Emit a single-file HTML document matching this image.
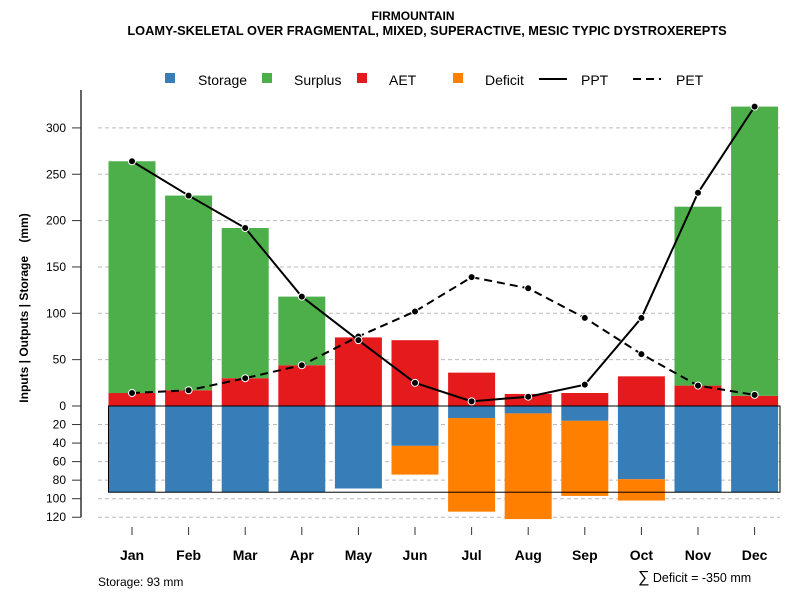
<!DOCTYPE html>
<html><head><meta charset="utf-8"><style>
body{margin:0;background:#fff}
svg{display:block;font-family:"Liberation Sans",Arial,sans-serif}
</style></head><body>
<svg id="c" width="800" height="600" viewBox="0 0 800 600">
<text x="413" y="20" text-anchor="middle" font-size="12" font-weight="bold">FIRMOUNTAIN</text>
<text x="427" y="35" text-anchor="middle" font-size="12.8" font-weight="bold">LOAMY-SKELETAL OVER FRAGMENTAL, MIXED, SUPERACTIVE, MESIC TYPIC DYSTROXEREPTS</text>
<g font-size="14">
<rect x="165" y="73" width="10" height="10" fill="#377eb8"/><text x="198" y="85">Storage</text>
<rect x="262" y="73" width="10" height="10" fill="#4daf4a"/><text x="294" y="85">Surplus</text>
<rect x="357" y="73" width="10" height="10" fill="#e41a1c"/><text x="389" y="85">AET</text>
<rect x="453" y="73" width="10" height="10" fill="#ff7f00"/><text x="485" y="85">Deficit</text>
<line x1="539" y1="79" x2="567" y2="79" stroke="#000" stroke-width="2"/><text x="581" y="85">PPT</text>
<line x1="633" y1="79" x2="661" y2="79" stroke="#000" stroke-width="2" stroke-dasharray="8,5"/><text x="676" y="85">PET</text>
</g>
<text transform="translate(28,308) rotate(-90)" text-anchor="middle" font-size="12" font-weight="bold" xml:space="preserve">Inputs | Outputs | Storage    (mm)</text>
<g id="grid"></g><g id="bars"></g><g id="lines"></g><g id="axes"></g>
<text x="98" y="586" font-size="12">Storage: 93 mm</text>
<text x="638" y="582" font-size="12.5"><tspan font-size="16">∑</tspan> Deficit = -350 mm</text>
</svg>
<script>
const months=["Jan","Feb","Mar","Apr","May","Jun","Jul","Aug","Sep","Oct","Nov","Dec"];
const aet=[14,17,30,44,74,71,36,13,14,32,22,11];
const surplus=[250,210,162,74,0,0,0,0,0,0,193,312];
const storage=[93,93,93,93,89,43,13,8,16,79,93,93];
const deficit=[0,0,0,0,0,31,101,114,81,23,0,0];
const ppt=[264,227,192,118,71,25,5,10,23,95,230,323];
const pet=[14,17,30,44,75,102,139,127,95,56,22,12];
const upTicks=[0,50,100,150,200,250,300];
const downTicks=[20,40,60,80,100,120];
const maxStorage=93;
const NS="http://www.w3.org/2000/svg";
const y0=406,k=0.927;
const yUp=v=>y0-v*k, yDn=v=>y0+v*k;
const xC=i=>132+i*56.6, bw=47;
function mk(p,tag,a){const e=document.createElementNS(NS,tag);for(const q in a)e.setAttribute(q,a[q]);document.getElementById(p).appendChild(e);return e;}
upTicks.forEach(t=>{
 if(t>0){const g=mk("grid","line",{x1:98,x2:780,y1:yUp(t),y2:yUp(t),stroke:"#bbb","stroke-dasharray":"4,3"});
 
 }
 const tk=mk("axes","line",{x1:72,x2:81,y1:yUp(t),y2:yUp(t),stroke:"#333"});
 
 
 const l=mk("axes","text",{x:66,y:yUp(t)+4,"text-anchor":"end","font-size":12});l.textContent=t;
 
 
});
downTicks.forEach(t=>{
 const g=mk("grid","line",{x1:98,x2:780,y1:yDn(t),y2:yDn(t),stroke:"#bbb","stroke-dasharray":"4,3"});
 
 
 const tk=mk("axes","line",{x1:72,x2:81,y1:yDn(t),y2:yDn(t),stroke:"#333"});
 
 
 const l=mk("axes","text",{x:66,y:yDn(t)+4,"text-anchor":"end","font-size":12});l.textContent=t;
 
 
});
const ax=mk("axes","line",{x1:81,x2:81,y1:90,y2:yDn(120),stroke:"#333","stroke-width":1.5});


months.forEach((m,i)=>{
 const x=xC(i)-bw/2;
 const a=mk("bars","rect",{x:x,y:yUp(aet[i]),width:bw,height:aet[i]*k,fill:"#e41a1c"});
 
 
 const s=mk("bars","rect",{x:x,y:yUp(aet[i]+surplus[i]),width:bw,height:surplus[i]*k,fill:"#4daf4a"});
 
 
 const st=mk("bars","rect",{x:x,y:y0,width:bw,height:storage[i]*k,fill:"#377eb8"});
 
 
 const d=mk("bars","rect",{x:x,y:yDn(storage[i]),width:bw,height:deficit[i]*k,fill:"#ff7f00"});
 
 
 const tk=mk("axes","line",{x1:xC(i),x2:xC(i),y1:527,y2:535,stroke:"#333"});
 
 
 const l=mk("axes","text",{x:xC(i),y:560,"text-anchor":"middle","font-size":14,"font-weight":"bold"});l.textContent=m;
 
 
});
const box=mk("bars","rect",{x:xC(0)-bw/2,y:y0,width:780-(xC(0)-bw/2),height:maxStorage*k,fill:"none",stroke:"#000","stroke-width":1});


function series(vals,dash,name){
 const p=mk("lines","polyline",{points:vals.map((v,i)=>xC(i)+","+yUp(v)).join(" "),fill:"none",stroke:"#000","stroke-width":2,"stroke-dasharray":dash});
 
 
 vals.forEach((v,i)=>{
  const c=mk("lines","circle",{cx:xC(i),cy:yUp(v),r:3.5,fill:"#000",stroke:"#fff","stroke-width":1});
  
  
 });
}
series(pet,"8,5","pet");
series(ppt,"none","ppt");
</script>
</body></html>
